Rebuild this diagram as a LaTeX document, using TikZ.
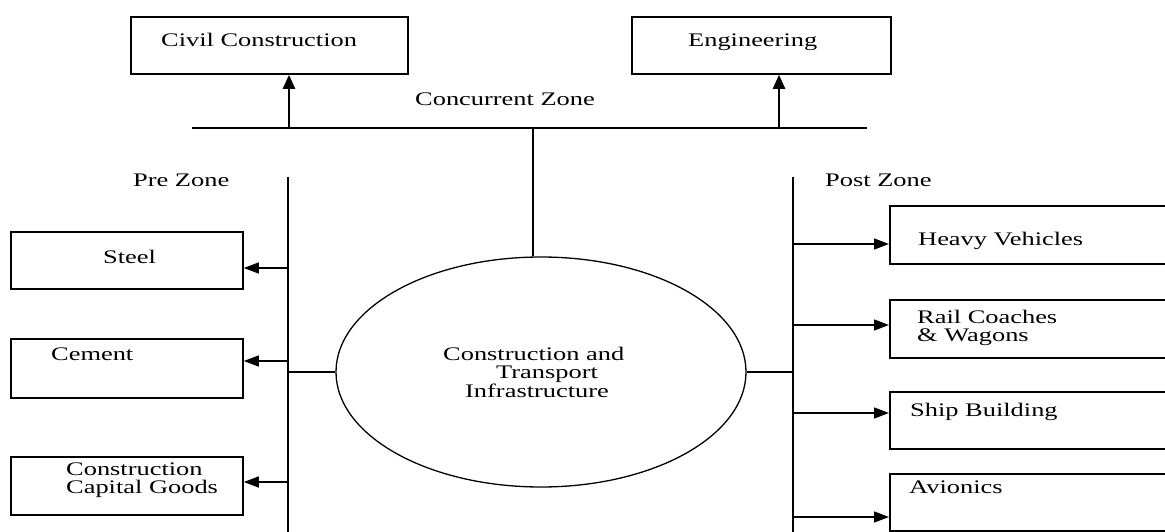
\documentclass[tikz,border=0pt]{standalone}
\usepackage{fontspec}
\setmainfont[FakeStretch=1.375]{Liberation Serif}
\usetikzlibrary{arrows.meta,shapes.geometric}
\begin{document}
\begin{tikzpicture}[x=1pt,y=-1pt,
  box/.style={draw,line width=1.8pt,rectangle,inner sep=0pt,anchor=north west},
  lbl/.style={inner sep=0pt,anchor=base west,font=\fontsize{19.2}{18.3}\selectfont},
  wire/.style={line width=1.4pt},
  uparrow/.style={line width=2.4pt,-{Triangle[length=14pt,width=12pt]}},
  sidearrow/.style={line width=1.4pt,-{Triangle[length=15pt,width=11pt]}}]
\useasboundingbox (0,0) rectangle (1165,532);

% top boxes
\node[box,minimum width=277pt,minimum height=57pt] (civ) at (130,16) {};
\node[box,minimum width=259pt,minimum height=57pt] (eng) at (631,16) {};
\node[lbl] (civT) at (161,47) {Civil Construction};
\node[lbl] (engT) at (688,47) {Engineering};

% concurrent zone bar
\coordinate (cl) at (192,128);
\coordinate (cr) at (867,128);
\coordinate (ca) at (289,128);
\coordinate (ea) at (779,128);
\coordinate (hub) at (533,128);
\draw[wire] (cl) -- (cr);
\node[lbl] (concT) at (415,106) {Concurrent Zone};
\draw[uparrow] (ca) -- (ca |- civ.south);
\draw[uparrow] (ea) -- (ea |- eng.south);

% central ellipse
\node[draw,ellipse,line width=1.3pt,inner sep=0pt,minimum width=410pt,minimum height=230pt] (ell) at (541,372) {};
\node[lbl] (c1) at (443,360) {Construction and};
\node[lbl] (c2) at (496,378) {Transport};
\node[lbl] (c3) at (465,397) {Infrastructure};
\draw[wire] (hub) -- (hub |- ell.north);

% zone spines
\coordinate (lt) at (288,177);
\coordinate (lb) at (288,532);
\coordinate (rt) at (793,177);
\coordinate (rb) at (793,532);
\draw[wire] (lt) -- (lb);
\draw[wire] (rt) -- (rb);
\draw[wire] (ell.west) -- (ell.west -| lt);
\draw[wire] (ell.east) -- (ell.east -| rt);
\node[lbl] (preT) at (133,186) {Pre Zone};
\node[lbl] (postT) at (825,186) {Post Zone};

% pre zone boxes
\node[box,minimum width=232pt,minimum height=57pt] (steel) at (10,231) {};
\node[box,minimum width=232pt,minimum height=59pt] (cement) at (10,338) {};
\node[box,minimum width=232pt,minimum height=58pt] (ccg) at (10,456) {};
\node[lbl] (steelT) at (103,263) {Steel};
\node[lbl] (cementT) at (51,360) {Cement};
\node[lbl] (ccg1) at (66,475) {Construction};
\node[lbl] (ccg2) at (66,493) {Capital Goods};
\coordinate (p1) at (288,268);
\coordinate (p2) at (288,361);
\coordinate (p3) at (288,482);
\draw[sidearrow] (p1) -- (p1 -| steel.east);
\draw[sidearrow] (p2) -- (p2 -| cement.east);
\draw[sidearrow] (p3) -- (p3 -| ccg.east);

% post zone boxes
\node[box,minimum width=300pt,minimum height=58pt] (hv) at (889,205) {};
\node[box,minimum width=300pt,minimum height=58pt] (rail) at (889,299) {};
\node[box,minimum width=300pt,minimum height=57pt] (ship) at (889,391) {};
\node[box,minimum width=300pt,minimum height=57pt] (avi) at (889,473) {};
\node[lbl] (hvT) at (918,245) {Heavy Vehicles};
\node[lbl] (rail1) at (917,323) {Rail Coaches};
\node[lbl] (rail2) at (917,341) {\& Wagons};
\node[lbl] (shipT) at (910,416) {Ship Building};
\node[lbl] (aviT) at (909,493) {Avionics};
\coordinate (q1) at (793,244);
\coordinate (q2) at (793,325);
\coordinate (q3) at (793,413);
\coordinate (q4) at (793,517);
\draw[sidearrow] (q1) -- (q1 -| hv.west);
\draw[sidearrow] (q2) -- (q2 -| rail.west);
\draw[sidearrow] (q3) -- (q3 -| ship.west);
\draw[sidearrow] (q4) -- (q4 -| avi.west);
\end{tikzpicture}
\end{document}
